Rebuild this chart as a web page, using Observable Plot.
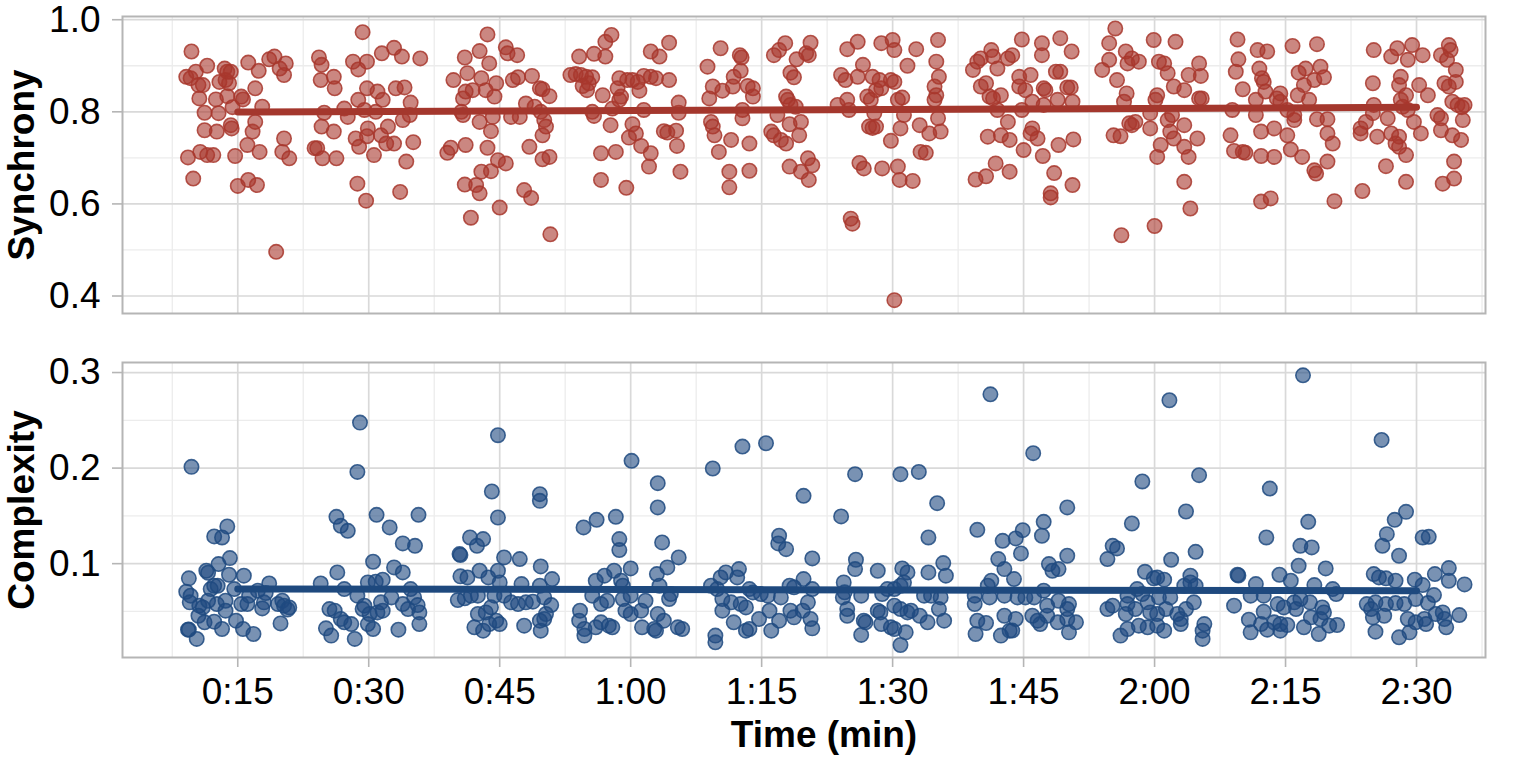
<!DOCTYPE html>
<html><head><meta charset="utf-8">
<script src="https://cdn.jsdelivr.net/npm/d3@7"></script>
<script src="https://cdn.jsdelivr.net/npm/@observablehq/plot@0.6"></script>
<style>
html,body{margin:0;padding:0;background:#fff;}
#chart{position:relative;width:1535px;height:761px;overflow:hidden;}
#chart svg{display:block;}
</style></head><body><div id="chart"></div>
<script>
// ---- ticks (time in seconds) ----
const timeTicks = [15, 30, 45, 60, 75, 90, 105, 120, 135, 150];
const timeMinorTicks = [7.5, 22.5, 37.5, 52.5, 67.5, 82.5, 97.5, 112.5, 127.5, 142.5, 157.5];
const syncTicks = [0.4, 0.6, 0.8, 1.0];
const syncMinorTicks = [0.5, 0.7, 0.9];
const compTicks = [0.1, 0.2, 0.3];
const compMinorTicks = [0.05, 0.15, 0.25];

// ---- Synchrony: [time (s), value] ----
const synchrony = [
[9.7,.931],[9.1,.876],[10.2,.887],[9.6,.873],[10.5,.858],[11.0,.858],[11.5,.900],[10.6,.829],[11.2,.798],[12.5,.827],[12.8,.797],[12.9,.865],[13.5,.894],[13.8,.887],[13.6,.869],[14.2,.887],[14.0,.862],[13.8,.834],[14.4,.810],[14.2,.771],[14.3,.764],[11.2,.760],[12.6,.757],[9.3,.701],[10.7,.713],[11.5,.706],[12.2,.706],[14.7,.704],[9.9,.655],[15.0,.639],[16.2,.652],[17.2,.641],[16.1,.728],[17.5,.713],[16.7,.757],[17.0,.778],[17.8,.811],[17.0,.851],[17.4,.889],[16.2,.907],[15.4,.833],[15.6,.827],[18.6,.914],[19.2,.920],[19.8,.894],[20.3,.880],[20.5,.905],[19.4,.496],[20.3,.742],[20.1,.713],[20.9,.699],
[24.3,.918],[24.6,.902],[24.5,.869],[26.0,.876],[26.1,.851],[23.8,.721],[24.1,.721],[24.7,.699],[26.3,.699],[24.6,.768],[26.0,.757],[24.9,.798],[27.2,.807],[27.6,.789],[28.2,.909],[28.8,.892],[29.3,.973],[29.8,.909],[29.8,.851],[28.8,.826],[28.5,.742],[28.9,.724],[29.8,.747],[29.9,.764],[30.6,.706],[28.7,.644],[29.7,.607],[31.0,.844],[31.6,.826],[31.5,.927],[32.9,.939],[33.8,.920],[35.9,.916],[33.1,.851],[34.1,.853],[34.8,.820],[34.7,.793],[33.9,.782],[31.4,.749],[32.2,.768],[32.0,.731],[32.9,.731],[35.1,.734],[34.3,.692],[33.6,.626],[30.8,.800],[29.5,.804],
[39.7,.869],[41.0,.918],[41.3,.884],[42.7,.932],[43.6,.968],[43.8,.905],[42.9,.873],[44.6,.862],[44.4,.833],[43.4,.847],[41.9,.847],[41.1,.844],[40.8,.829],[40.6,.800],[40.8,.793],[42.7,.778],[44.2,.789],[44.0,.758],[43.6,.722],[41.1,.728],[39.4,.722],[39.0,.711],[41.0,.642],[42.3,.641],[42.7,.623],[41.7,.570],[42.9,.670],[44.0,.671],[44.8,.695],[45.7,.688],[45.0,.592],[45.7,.940],[45.9,.927],[47.0,.923],[46.5,.869],[47.1,.875],[48.7,.878],[49.6,.851],[49.9,.849],[50.7,.834],[48.0,.818],[49.0,.811],[49.7,.800],[50.1,.782],[50.3,.768],[49.9,.749],[46.3,.789],[47.3,.789],[48.4,.724],[47.8,.630],[48.6,.613],[49.9,.697],[50.7,.702],[50.8,.534],
[53.1,.880],[54.1,.920],[55.8,.926],[57.1,.920],[57.1,.952],[57.8,.967],[53.7,.882],[54.3,.880],[54.9,.876],[55.6,.875],[54.5,.856],[55.0,.847],[55.2,.862],[56.8,.836],[55.6,.800],[55.8,.791],[57.7,.771],[56.6,.710],[58.3,.713],[56.6,.652],[59.5,.635],[57.9,.807],[58.7,.826],[58.9,.833],[58.5,.851],[58.7,.873],[59.6,.869],[60.2,.869],[60.8,.865],[61.5,.878],[62.3,.876],[62.9,.873],[64.4,.869],[62.3,.931],[63.3,.920],[64.4,.950],[61.0,.846],[61.5,.804],[60.2,.773],[60.6,.753],[59.8,.744],[61.2,.726],[62.3,.710],[62.1,.681],[63.8,.758],[64.2,.755],[65.2,.759],[65.3,.726],[65.5,.820],[65.5,.798],[65.7,.670],
[70.3,.938],[68.8,.898],[69.4,.855],[69.0,.829],[70.5,.846],[71.7,.855],[71.8,.876],[72.6,.889],[72.5,.923],[72.7,.918],[73.4,.856],[74.0,.851],[74.0,.833],[72.8,.804],[72.8,.786],[69.2,.778],[69.4,.768],[69.6,.749],[70.1,.713],[71.5,.739],[73.6,.731],[71.3,.670],[71.3,.636],[73.6,.672],[76.4,.923],[77.0,.934],[77.7,.949],[79.0,.914],[78.3,.885],[78.7,.875],[80.1,.927],[80.6,.950],[80.4,.923],[77.8,.833],[78.0,.826],[78.3,.815],[78.9,.811],[76.8,.793],[78.2,.773],[79.5,.778],[79.3,.749],[76.1,.757],[76.4,.749],[77.2,.739],[77.8,.731],[78.2,.681],[79.5,.670],[80.4,.652],[80.3,.699],[80.8,.684],
[84.8,.936],[86.0,.952],[86.6,.902],[84.1,.880],[84.6,.869],[86.0,.876],[87.7,.876],[87.1,.833],[87.5,.826],[88.1,.847],[88.7,.851],[88.5,.869],[87.9,.797],[83.7,.815],[84.8,.826],[85.0,.804],[87.3,.768],[87.7,.765],[88.1,.768],[86.2,.689],[86.7,.677],[88.8,.677],[88.7,.949],[90.0,.956],[90.2,.934],[89.8,.869],[90.2,.865],[90.6,.826],[91.1,.831],[91.7,.900],[92.7,.936],[95.2,.956],[95.0,.909],[95.3,.876],[94.8,.855],[95.0,.836],[94.8,.826],[91.3,.793],[90.9,.764],[89.8,.737],[93.1,.771],[94.2,.753],[95.2,.786],[95.5,.757],[93.2,.713],[93.8,.711],[90.6,.681],[90.8,.652],[92.3,.650],[85.2,.568],[85.4,.557],[90.2,.391],
[99.2,.891],[99.7,.909],[100.1,.916],[101.3,.934],[101.5,.920],[102.0,.894],[103.2,.916],[103.7,.923],[100.1,.855],[100.7,.862],[101.1,.833],[101.5,.829],[102.4,.836],[102.0,.804],[103.2,.778],[100.9,.746],[102.4,.749],[103.4,.739],[101.8,.688],[99.5,.653],[100.7,.660],[103.4,.670],[104.8,.957],[104.5,.876],[104.5,.855],[107.1,.949],[107.1,.923],[109.2,.960],[110.5,.931],[105.8,.880],[105.2,.847],[107.3,.851],[107.5,.847],[108.7,.887],[109.2,.887],[110.0,.853],[110.4,.853],[106.0,.822],[107.3,.815],[108.9,.826],[110.6,.822],[104.8,.804],[106.0,.764],[105.8,.753],[106.6,.742],[105.0,.717],[107.2,.704],[109.0,.728],[110.7,.740],[108.5,.667],[108.1,.623],[108.1,.614],[110.6,.641],
[115.5,.981],[114.8,.949],[114.8,.913],[114.0,.891],[115.7,.869],[116.7,.931],[116.9,.905],[117.4,.916],[118.2,.909],[116.8,.840],[116.5,.822],[117.1,.775],[117.4,.771],[117.8,.778],[115.3,.749],[116.1,.747],[119.5,.764],[119.5,.797],[120.3,.836],[120.1,.826],[120.5,.909],[121.1,.905],[121.5,.884],[119.9,.956],[122.4,.952],[122.2,.855],[123.4,.847],[123.9,.880],[125.1,.905],[125.3,.878],[125.1,.829],[125.4,.829],[121.5,.782],[122.0,.793],[121.8,.757],[120.7,.728],[120.3,.702],[122.2,.742],[123.4,.771],[123.4,.724],[123.9,.702],[124.9,.742],[123.4,.648],[124.1,.590],[120.0,.552],[116.2,.532],
[129.5,.957],[129.6,.914],[129.3,.887],[130.1,.849],[131.8,.934],[132.9,.931],[132.0,.894],[132.3,.873],[132.5,.865],[132.7,.844],[128.9,.804],[131.6,.826],[131.6,.793],[132.2,.757],[133.7,.764],[134.4,.840],[134.0,.829],[134.4,.822],[135.8,.943],[136.5,.885],[137.3,.894],[137.1,.858],[136.4,.836],[137.7,.826],[138.6,.947],[139.0,.898],[138.3,.869],[139.4,.875],[135.2,.804],[136.0,.793],[136.0,.782],[135.2,.749],[135.6,.718],[136.9,.702],[138.6,.784],[139.8,.784],[139.8,.753],[140.4,.731],[139.8,.692],[138.3,.673],[138.5,.666],[128.7,.749],[129.1,.715],[130.1,.713],[130.4,.711],[132.2,.704],[133.7,.702],[132.2,.605],[133.3,.612],[140.6,.606],
[145.1,.934],[147.1,.920],[147.8,.938],[149.0,.913],[149.5,.945],[150.7,.923],[148.2,.876],[148.0,.858],[148.8,.836],[150.3,.858],[151.3,.836],[145.0,.862],[145.1,.815],[145.0,.797],[144.2,.778],[143.6,.764],[143.6,.753],[145.5,.746],[146.7,.786],[147.1,.753],[148.0,.746],[147.6,.731],[148.0,.724],[148.8,.706],[149.7,.778],[150.5,.753],[148.2,.826],[148.4,.811],[149.0,.804],[146.5,.682],[148.8,.648],[143.8,.628],[152.8,.923],[153.7,.945],[153.9,.934],[153.5,.913],[154.5,.891],[153.2,.862],[153.7,.855],[154.5,.865],[154.1,.822],[154.7,.815],[155.5,.815],[155.2,.810],[152.4,.793],[152.8,.786],[155.3,.782],[152.8,.760],[154.1,.749],[155.1,.739],[154.3,.692],[153.0,.644],[154.3,.655]
];

// ---- Complexity: [time (s), value] ----
const complexity = [
[9.7,.2013],[12.3,.1285],[13.2,.1274],[13.8,.1389],[12.8,.0996],[14.1,.1058],[11.4,.0926],[11.6,.0905],[9.4,.0846],[14.0,.0884],[15.7,.0874],[9.1,.0706],[9.6,.0665],[9.5,.0595],[10.6,.056],[11.0,.0542],[11.9,.0734],[12.3,.0769],[12.7,.0769],[11.6,.0612],[12.6,.0577],[13.6,.0612],[13.6,.0508],[14.6,.0734],[15.4,.0577],[16.1,.0577],[10.5,.0455],[11.2,.0386],[12.3,.0393],[13.2,.0316],[14.8,.0403],[15.6,.0316],[16.8,.0264],[9.3,.0309],[9.4,.031],[10.3,.0212],[18.6,.0793],[18.0,.0595],[17.8,.0532],[19.6,.0577],[20.1,.0612],[20.3,.056],[20.9,.0542],[20.7,.052],[19.9,.0375],[18.2,.0692],[17.3,.0717],[16.3,.0665],
[29.0,.2476],[28.7,.196],[26.3,.149],[26.8,.1396],[27.6,.1344],[30.9,.1511],[32.4,.1379],[33.9,.1212],[35.3,.1187],[35.7,.1511],[30.5,.102],[32.9,.0961],[33.9,.0908],[26.4,.0908],[24.5,.0793],[27.2,.0734],[29.9,.0804],[30.8,.0811],[31.6,.0832],[34.8,.0734],[35.2,.0647],[35.6,.0567],[35.8,.049],[35.8,.0368],[28.7,.0665],[29.5,.056],[29.3,.0525],[30.1,.0473],[31.0,.049],[31.6,.0508],[31.4,.0595],[32.6,.0647],[33.9,.0577],[34.5,.0525],[25.5,.0525],[26.1,.0508],[26.8,.0421],[27.2,.0386],[28.0,.0368],[25.1,.0323],[25.7,.0247],[28.4,.0212],[29.9,.0368],[30.5,.0316],[33.4,.0309],
[44.8,.2344],[44.1,.1755],[44.8,.1483],[49.6,.1727],[49.6,.1657],[41.6,.1274],[42.4,.1187],[43.1,.1257],[40.4,.11],[40.5,.109],[45.5,.1065],[47.3,.1048],[49.7,.0971],[51.0,.0839],[40.5,.0867],[41.3,.0856],[42.7,.0926],[43.7,.0856],[44.8,.0926],[45.0,.0804],[47.5,.0786],[49.6,.0769],[40.2,.0619],[41.0,.0637],[41.7,.0665],[42.5,.0665],[44.4,.0665],[45.5,.0665],[46.3,.0595],[47.1,.0577],[48.0,.0595],[48.8,.0602],[50.1,.0647],[50.9,.0567],[42.5,.0473],[43.4,.049],[44.0,.0543],[44.6,.0403],[45.0,.0368],[42.1,.0334],[43.1,.0299],[43.8,.0368],[47.8,.0351],[49.7,.0299],[49.6,.0403],[50.3,.0473],[50.1,.0421],
[54.6,.1379],[56.1,.1459],[58.3,.149],[58.7,.1257],[58.7,.1142],[60.1,.2076],[63.1,.1842],[63.1,.1588],[63.6,.1222],[65.5,.1065],[64.2,.0961],[63.0,.0891],[60.0,.095],[57.0,.0874],[58.1,.0926],[56.0,.0821],[58.9,.0821],[59.1,.0769],[55.6,.0665],[56.6,.0577],[57.3,.0612],[59.1,.063],[60.0,.0665],[61.7,.0612],[63.3,.0769],[64.6,.0682],[64.4,.063],[54.2,.0508],[54.1,.0403],[54.7,.0316],[54.7,.0247],[56.0,.0334],[56.6,.0386],[57.5,.0351],[57.9,.0334],[59.4,.0508],[60.0,.0473],[61.2,.0508],[61.3,.0334],[62.7,.0316],[62.9,.0299],[63.1,.0473],[63.8,.0403],[65.4,.0334],[65.9,.0316],
[69.4,.1996],[72.8,.2225],[75.5,.226],[79.8,.171],[77.0,.1292],[76.9,.1212],[77.8,.1152],[80.8,.1055],[70.9,.0908],[72.4,.0943],[69.2,.0769],[70.3,.0856],[72.2,.0856],[69.9,.0734],[70.5,.063],[71.5,.0595],[72.6,.0577],[73.2,.0542],[73.6,.0734],[74.0,.0699],[74.9,.0682],[75.7,.0665],[77.2,.0647],[78.2,.0769],[78.7,.0752],[79.8,.0839],[80.8,.0734],[80.3,.0595],[79.7,.0508],[78.3,.0508],[78.7,.0438],[70.5,.0508],[71.8,.0386],[73.2,.0299],[73.6,.0316],[74.7,.0421],[75.9,.0508],[76.1,.0299],[77.0,.0403],[80.8,.0323],[80.6,.0421],[69.7,.0247],[69.7,.0177],
[85.7,.1936],[90.9,.1936],[93.0,.196],[84.1,.1494],[95.1,.1633],[94.1,.1274],[85.8,.1041],[85.7,.0943],[88.3,.0926],[91.1,.095],[91.7,.0908],[95.8,.1006],[96.1,.0874],[94.1,.0908],[84.4,.0804],[84.5,.07],[84.3,.0647],[84.8,.0525],[84.8,.0455],[86.4,.0665],[88.8,.0682],[89.4,.0734],[90.2,.0734],[90.9,.0769],[91.3,.0804],[93.6,.0665],[94.4,.0665],[95.5,.0647],[95.3,.0525],[90.2,.056],[88.3,.0508],[88.6,.049],[90.9,.0525],[91.7,.049],[92.1,.0508],[93.1,.0455],[94.0,.0386],[95.9,.0403],[86.7,.0403],[86.9,.0386],[86.4,.0254],[88.7,.0368],[89.8,.0334],[90.2,.0316],[91.5,.0281],[90.9,.0149],
[101.2,.2772],[99.7,.1354],[102.6,.1239],[104.1,.1264],[102.1,.1048],[102.8,.0943],[103.9,.0839],[101.3,.0821],[100.9,.0769],[99.4,.0665],[99.4,.0577],[101.1,.0647],[102.8,.0665],[104.3,.0647],[99.7,.0403],[100.7,.0379],[99.5,.0264],[102.4,.0247],[103.4,.0299],[102.8,.0455],[104.1,.0421],[106.1,.2156],[104.9,.135],[104.7,.1107],[107.3,.1438],[107.1,.1292],[110.0,.1588],[110.0,.1083],[107.9,.0996],[108.3,.0926],[109.0,.0943],[107.3,.0717],[106.2,.0647],[105.2,.0647],[107.7,.056],[109.0,.0612],[110.2,.0577],[110.0,.0525],[106.0,.0455],[106.6,.0403],[106.9,.0368],[107.7,.0455],[108.9,.0386],[110.0,.0421],[110.2,.0281],[111.0,.0386],[103.7,.030],
[121.7,.271],[125.1,.1926],[118.6,.186],[123.6,.1546],[117.4,.142],[124.7,.1124],[121.9,.1041],[115.2,.1187],[115.7,.1159],[114.6,.1048],[118.9,.0915],[119.9,.0846],[120.3,.0856],[121.1,.0832],[124.1,.0874],[124.1,.0804],[124.7,.0769],[123.4,.0769],[118.0,.0734],[116.9,.0665],[118.6,.0682],[119.2,.0595],[120.5,.0647],[121.8,.0647],[114.6,.0525],[115.2,.056],[116.9,.0577],[117.8,.0525],[119.5,.049],[120.3,.0473],[121.3,.0525],[122.6,.0473],[123.6,.0525],[124.5,.0595],[116.7,.0473],[116.1,.0247],[116.9,.0316],[118.2,.0351],[119.2,.0334],[120.3,.0351],[121.1,.0299],[123.0,.0368],[123.0,.0421],[125.7,.0368],[125.5,.0299],[125.5,.0212],
[137.0,.2971],[133.2,.1786],[137.6,.1438],[132.8,.1274],[136.7,.1187],[138.0,.117],[136.5,.0978],[139.6,.095],[129.5,.0884],[129.6,.0876],[131.6,.0786],[134.3,.0884],[135.6,.0821],[138.3,.0776],[140.4,.0734],[140.8,.0682],[131.0,.0665],[132.5,.0665],[134.1,.0577],[134.8,.0542],[136.0,.0595],[136.7,.063],[136.2,.0525],[137.8,.0595],[139.2,.0542],[139.4,.049],[129.1,.056],[132.5,.0497],[130.8,.0414],[132.2,.0368],[133.7,.0386],[134.4,.0368],[135.2,.0358],[137.1,.0334],[137.9,.0438],[139.0,.0421],[140.0,.0351],[140.9,.0358],[131.0,.0281],[132.9,.0309],[134.4,.0299],[138.8,.0264],
[146.0,.2295],[148.8,.1542],[147.5,.1459],[146.6,.1309],[146.1,.1187],[148.0,.1083],[150.7,.1274],[151.4,.1281],[145.1,.0891],[145.7,.0856],[146.5,.0846],[147.6,.0821],[149.8,.0832],[150.7,.0776],[152.1,.0891],[153.7,.0954],[153.7,.0821],[155.5,.0783],[144.3,.0577],[144.8,.0525],[145.3,.0595],[146.5,.0577],[147.6,.0588],[148.6,.0577],[149.9,.063],[151.3,.0588],[152.0,.0671],[145.0,.0438],[146.3,.0455],[145.3,.0288],[148.0,.0229],[149.2,.0281],[149.0,.0421],[149.9,.0386],[150.9,.0421],[151.1,.0368],[152.2,.0473],[153.0,.049],[153.2,.0421],[153.4,.0334],[154.9,.0462]
];

// ---- linear trends: [time, fitted] and band [time, low, high] ----
const syncTrend = [[15, 0.7995], [150, 0.8097]];
const syncBand = [[15, 0.7950, 0.8040], [82.5, 0.8024, 0.8068], [150, 0.8052, 0.8142]];
const compTrend = [[15, 0.0736], [150, 0.0716]];
const compBand = [[15, 0.0720, 0.0752], [82.5, 0.0718, 0.0734], [150, 0.0700, 0.0732]];

const FONT = "'Liberation Sans', Arial, Helvetica, sans-serif";
const fmtTime = s => `${Math.floor(s / 60)}:${String(s % 60).padStart(2, "0")}`;

function panel(o) {
  return Plot.plot({
    width: 1535, height: o.height,
    marginLeft: 122, marginRight: 50, marginTop: o.marginTop, marginBottom: o.marginBottom,
    style: {fontFamily: FONT, fontSize: "37px", color: "#000", background: "#fff", overflow: "visible"},
    x: {domain: [1.8, 157.9], axis: null},
    y: {domain: o.yDomain, axis: null},
    marks: [
      Plot.ruleX(timeMinorTicks, {stroke: "#ececec", strokeWidth: 1.3}),
      Plot.ruleY(o.minor, {stroke: "#ececec", strokeWidth: 1.3}),
      Plot.ruleX(timeTicks, {stroke: "#d9d9d9", strokeWidth: 1.7}),
      Plot.ruleY(o.ticks, {stroke: "#d9d9d9", strokeWidth: 1.7}),
      Plot.frame({stroke: "#b5b5b5", strokeWidth: 2}),
      Plot.axisY(o.ticks, {tickSize: 10, tickPadding: 12, stroke: "#b5b5b5", strokeWidth: 1.6, fill: "#000",
        tickFormat: d => d.toFixed(1), label: null, fontSize: 37}),
      o.showX ? Plot.axisX(timeTicks, {tickSize: 10, tickPadding: 10, stroke: "#b5b5b5", strokeWidth: 1.6, fill: "#000",
        tickFormat: fmtTime, label: null, fontSize: 37}) : null,
      Plot.dot(o.data, {x: d => d[0], y: d => d[1], r: 7.2, fill: o.color, fillOpacity: 0.6,
        stroke: o.color, strokeOpacity: 0.85, strokeWidth: 1.6}),
      Plot.areaY(o.band, {x: d => d[0], y1: d => d[1], y2: d => d[2], fill: "#8c8c8c", fillOpacity: 0.45}),
      Plot.line(o.trend, {x: d => d[0], y: d => d[1], stroke: o.lineColor, strokeWidth: 7}),
      Plot.text([o.label], {frameAnchor: "left", dx: -100, rotate: -90, textAnchor: "middle", lineAnchor: "middle",
        fontWeight: "bold", fontSize: 37, fill: "#000"}),
      o.showX ? Plot.text(["Time (min)"], {frameAnchor: "bottom", dx: 20, dy: 63, lineAnchor: "top",
        fontWeight: "bold", fontSize: 37, fill: "#000"}) : null
    ]
  });
}

const chart = document.getElementById("chart");
chart.appendChild(panel({
  height: 330, marginTop: 16, marginBottom: 17,
  yDomain: [0.362, 1.007], ticks: syncTicks, minor: syncMinorTicks,
  data: synchrony, trend: syncTrend, band: syncBand,
  color: "#a8372d", lineColor: "#a4372d", label: "Synchrony", showX: false
}));
chart.appendChild(panel({
  height: 431, marginTop: 32, marginBottom: 104,
  yDomain: [0.0018, 0.3105], ticks: compTicks, minor: compMinorTicks,
  data: complexity, trend: compTrend, band: compBand,
  color: "#1f4a80", lineColor: "#1e497e", label: "Complexity", showX: true
}));
</script></body></html>
